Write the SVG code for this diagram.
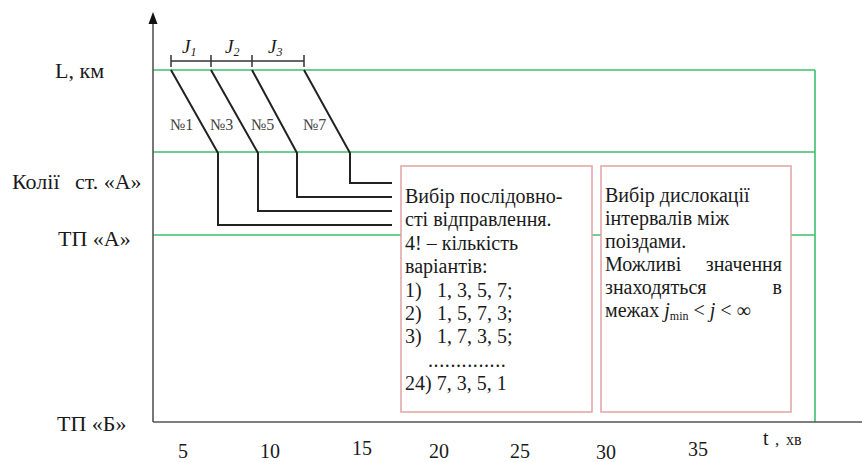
<svg xmlns="http://www.w3.org/2000/svg" width="862" height="462" viewBox="0 0 862 462">
<style>
text{font-family:"Liberation Serif","Times New Roman",serif;fill:#1a1a1a}
.lbl{font-size:22px}
.num{font-size:20px;text-anchor:middle}
.box{fill:#fff;stroke:#e2a3a3;stroke-width:1.5}
.bt{font-size:20px}
.grn{stroke:#3dbf6e;stroke-width:1.6;fill:none}
.trn{stroke:#222;stroke-width:2;fill:none}
.ax{stroke:#555;stroke-width:1.6;fill:none}
.tr{font-size:16px;fill:#444}
.j{font-size:19px;font-style:italic}
.sub{font-size:12px}
</style>
<rect width="862" height="462" fill="#fff"/>

<g id="grid">
<line class="grn" x1="153" y1="70" x2="815" y2="70"/>
<line class="grn" x1="153" y1="152" x2="815" y2="152"/>
<line class="grn" x1="153" y1="235" x2="815" y2="235"/>
<line class="grn" x1="815" y1="70" x2="815" y2="422"/>
</g>

<g id="axes">
<line class="ax" x1="153" y1="422" x2="153" y2="22"/>
<line class="ax" x1="153" y1="422" x2="862" y2="422"/>
<polygon points="153,12 157.5,24 148.5,24" fill="#111"/>
</g>

<g id="axis-labels">
<text class="lbl" x="55" y="78">L, км</text>
<text class="lbl" x="12" y="189">Колії</text>
<text class="lbl" x="75" y="189">ст. «А»</text>
<text class="lbl" x="58" y="246">ТП «А»</text>
<text class="lbl" x="57" y="431">ТП «Б»</text>
<text class="num" x="183" y="458">5</text>
<text class="num" x="270" y="458">10</text>
<text class="num" x="362" y="455">15</text>
<text class="num" x="439" y="458">20</text>
<text class="num" x="520" y="458">25</text>
<text class="num" x="606" y="459">30</text>
<text class="num" x="698" y="456">35</text>
<text x="763" y="445" font-size="20">t<tspan x="775" font-size="17">,</tspan><tspan x="786" font-size="16">хв</tspan></text>
</g>

<g id="intervals">
<path d="M171,61 H304 M171,55 V67 M211,55 V67 M252,55 V67 M304,55 V67" stroke="#333" stroke-width="1.5" fill="none"/>
<text class="j" x="182" y="53">J<tspan class="sub" dy="3">1</tspan></text>
<text class="j" x="225" y="53">J<tspan class="sub" dy="3">2</tspan></text>
<text class="j" x="268" y="53">J<tspan class="sub" dy="3">3</tspan></text>
</g>

<g id="connectors">
<path class="trn" d="M171,70 L218,153 V225 H392"/>
<path class="trn" d="M211,70 L258,153 V211 H392"/>
<path class="trn" d="M252,70 L297,153 V197 H392"/>
<path class="trn" d="M304,70 L350,153 V183 H392"/>
</g>

<g id="train-labels">
<text class="tr" x="170" y="130">№1</text>
<text class="tr" x="210" y="130">№3</text>
<text class="tr" x="251" y="130">№5</text>
<text class="tr" x="303" y="130">№7</text>
</g>

<g id="box-sequence">
<rect class="box" x="401" y="166" width="191" height="246"/>
<text class="bt" x="405" y="203">Вибір послідовно-</text>
<text class="bt" x="405" y="226.4">сті відправлення.</text>
<text class="bt" x="405" y="249.8">4! – кількість</text>
<text class="bt" x="405" y="273.2">варіантів:</text>
<text class="bt" x="405" y="296.6">1)<tspan x="437">1, 3, 5, 7;</tspan></text>
<text class="bt" x="405" y="320">2)<tspan x="437">1, 5, 7, 3;</tspan></text>
<text class="bt" x="405" y="343.4">3)<tspan x="437">1, 7, 3, 5;</tspan></text>
<text class="bt" x="428" y="366.8" letter-spacing="0.6">..............</text>
<text class="bt" x="405" y="390.2">24) 7, 3, 5, 1</text>
</g>

<g id="box-intervals">
<rect class="box" x="601" y="166" width="190" height="246"/>
<text class="bt" x="605" y="202">Вибір дислокації</text>
<text class="bt" x="605" y="225">інтервалів між</text>
<text class="bt" x="605" y="248">поіздами.</text>
<text class="bt" x="605" y="271">Можливі</text>
<text class="bt" x="782" y="271" text-anchor="end">значення</text>
<text class="bt" x="605" y="294">знаходяться</text>
<text class="bt" x="782" y="294" text-anchor="end">в</text>
<text class="bt" x="605" y="317">межах <tspan font-style="italic">j</tspan><tspan font-size="12" dy="3">min</tspan><tspan dy="-3"> &lt; </tspan><tspan font-style="italic">j</tspan> &lt; ∞</text>
</g>
</svg>
